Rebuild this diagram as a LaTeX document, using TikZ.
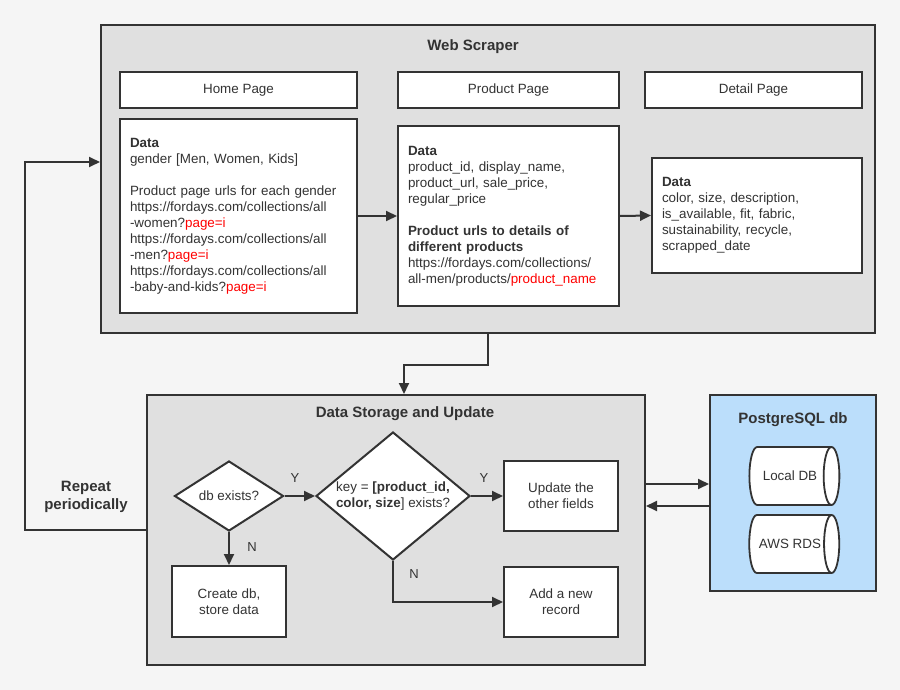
\documentclass[tikz,border=0pt]{standalone}
\usepackage{fontspec}
\setmainfont{Liberation Sans}
\usetikzlibrary{arrows.meta,shapes.geometric,calc}
\definecolor{ink}{HTML}{333333}
\definecolor{bgc}{HTML}{F5F5F5}
\definecolor{contfill}{HTML}{E0E0E0}
\definecolor{pgfillc}{HTML}{BBDEFB}
\definecolor{urlred}{HTML}{FF0000}
\begin{document}
\begin{tikzpicture}[x=1pt,y=-1pt,
  font=\fontsize{13.4}{16}\selectfont, text=ink,
  container/.style={draw=ink, line width=2pt, fill=contfill, inner sep=0pt},
  hdr/.style={draw=ink, line width=2pt, fill=white, minimum height=36, inner sep=0pt},
  databox/.style={draw=ink, line width=2pt, fill=white, align=left, inner xsep=10pt, inner ysep=0pt},
  plainbox/.style={draw=ink, line width=2pt, fill=white, align=center, inner sep=0pt, minimum width=114, minimum height=70},
  dia/.style={diamond, draw=ink, line width=2pt, fill=white, inner sep=0pt},
  cyl/.style={cylinder, shape border rotate=0, aspect=1.6, draw=ink, line width=1.8pt, fill=white, minimum width=58, minimum height=90, inner sep=0pt},
  conn/.style={draw=ink, line width=2pt, -{Triangle[length=11pt,width=10pt]}},
  ttl/.style={font=\fontsize{15}{18}\selectfont\bfseries, align=center},
  yn/.style={font=\fontsize{13}{15}\selectfont}
]
\fill[bgc] (0,0) rectangle (900,690);
\useasboundingbox (0,0) rectangle (900,690);

% Web scraper
\node[container, minimum width=774, minimum height=308] (ws) at (488,179) {};
\node[ttl] (wst) at (473,47) {Web Scraper};
\node[hdr, minimum width=237] (hp) at (238.5,90) {Home Page};
\node[hdr, minimum width=221] (pp) at (508.5,90) {Product Page};
\node[hdr, minimum width=217] (dp) at (753.5,90) {Detail Page};

\node[databox, text width=217, minimum height=194] (hd) at (238.5,216) {%
\textbf{Data}\\
gender [Men, Women, Kids]\\[16pt]
Product page urls for each gender\\
https://fordays.com/collections/all\\
-women?\textcolor{urlred}{page=i}\\
https://fordays.com/collections/all\\
-men?\textcolor{urlred}{page=i}\\
https://fordays.com/collections/all\\
-baby-and-kids?\textcolor{urlred}{page=i}};

\node[databox, text width=201, minimum height=180] (pd) at (508.5,216) {%
\textbf{Data}\\
product\_id, display\_name,\\
product\_url, sale\_price,\\
regular\_price\\[16pt]
\textbf{Product urls to details of}\\
\textbf{different products}\\
https://fordays.com/collections/\\
all-men/products/\textcolor{urlred}{product\_name}};

\node[databox, text width=190, minimum height=115] (dd) at (757,215.5) {%
\textbf{Data}\\
color, size, description,\\
is\_available, fit, fabric,\\
sustainability, recycle,\\
scrapped\_date};

\draw[conn] (hd.east) -- (pd.west);
\draw[conn] (pd.east) -- (dd.west);

% Data storage
\node[container, minimum width=498, minimum height=270] (ds) at (396,530) {};
\node[ttl] (dst) at (405,414) {Data Storage and Update};

\node[dia, minimum width=109, minimum height=70] (db) at (229,496) {};
\node (dbt) at (db.center) {db exists?};
\node[dia, minimum width=154, minimum height=128] (key) at (393,496) {};
\node[align=center] (keyt) at (key.center) {key = \textbf{[product\_id,}\\\textbf{color, size}] exists?};
\node[plainbox, minimum height=71] (cr) at (229,601.5) {Create db,\\store data};
\node[plainbox] (up) at (561,496) {Update the\\other fields};
\node[plainbox] (add) at (561,602) {Add a new\\record};

\draw[conn] (db.east) -- (key.west);
\draw[conn] (db.south) -- (cr.north);
\draw[conn] (key.east) -- (up.west);
\draw[conn] (key.south) |- (add.west);
\node[yn] (y1) at (295,478) {Y};
\node[yn] (n1) at (252,547) {N};
\node[yn] (y2) at (484,478) {Y};
\node[yn] (n2) at (414,574) {N};

% PostgreSQL
\node[draw=ink, line width=2pt, fill=pgfillc, minimum width=166, minimum height=196, inner sep=0pt] (pg) at (793,493) {};
\node[ttl] (pgt) at (793,420) {PostgreSQL db};
\node[cyl] (loc) at (790,476) {Local DB};
\node[cyl] (aws) at (790,544) {AWS RDS};

\draw[conn] (ds.east |- 0,484) -- (pg.west |- 0,484);
\draw[conn] (pg.west |- 0,506) -- (ds.east |- 0,506);

% connections between containers
\coordinate (bend) at (404,365);
\draw[conn] (ws.south) |- (bend) -- (bend |- ds.north);

\coordinate (lp1) at (25,530);
\coordinate (lp2) at (25,162);
\draw[conn] (ds.west |- lp1) -- (lp1) -- (lp2) -- (ws.west |- lp2);
\node[ttl] (rep) at (86,497) {Repeat\\periodically};
\end{tikzpicture}
\end{document}
